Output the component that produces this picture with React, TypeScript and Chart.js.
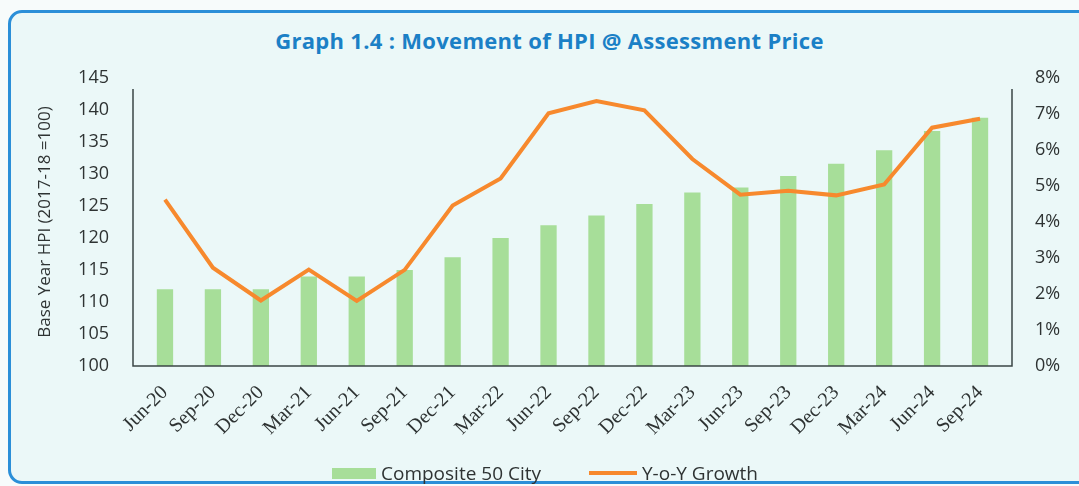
import React, { useEffect, useRef } from 'react';
import { Chart, registerables } from 'chart.js';

Chart.register(...registerables);

const categories = [
  'Jun-20', 'Sep-20', 'Dec-20', 'Mar-21', 'Jun-21', 'Sep-21', 'Dec-21', 'Mar-22', 'Jun-22',
  'Sep-22', 'Dec-22', 'Mar-23', 'Jun-23', 'Sep-23', 'Dec-23', 'Mar-24', 'Jun-24', 'Sep-24',
];
const composite50City = [
  112, 112, 112, 114, 114, 115, 117, 120, 122,
  123.5, 125.3, 127.1, 127.9, 129.7, 131.6, 133.7, 136.7, 138.8,
];
const yoyGrowth = [
  4.62, 2.73, 1.82, 2.68, 1.81, 2.67, 4.46, 5.21, 7.02,
  7.36, 7.1, 5.75, 4.76, 4.87, 4.74, 5.04, 6.62, 6.87,
];
const leftAxisMin = 100;
const leftAxisMax = 145;
const leftAxisStep = 5;
const rightAxisMin = 0;
const rightAxisMax = 8;
const rightAxisStep = 1;

const titleText = 'Graph 1.4 : Movement of HPI @ Assessment Price';
const leftAxisTitle = 'Base Year HPI (2017-18 =100)';
const barLabel = 'Composite 50 City';
const lineLabel = 'Y-o-Y Growth';

const BAR_COLOR = '#a7de99';
const LINE_COLOR = '#f7892d';
const TEXT_COLOR = '#2e3333';

const framePlugin = {
  id: 'axisFrame',
  afterDatasetsDraw(chart: any) {
    const { ctx, chartArea } = chart;
    const { left, right, top, bottom } = chartArea;
    const ext = 8;
    const topOff = 11;
    ctx.save();
    ctx.strokeStyle = '#3b4646';
    ctx.lineWidth = 1.5;
    ctx.beginPath();
    ctx.moveTo(left - ext, top + topOff);
    ctx.lineTo(left - ext, bottom);
    ctx.lineTo(right + ext, bottom);
    ctx.lineTo(right + ext, top + topOff);
    ctx.stroke();
    ctx.restore();
  },
};

export default function App() {
  const canvasRef = useRef<HTMLCanvasElement | null>(null);

  useEffect(() => {
    if (!canvasRef.current) return;
    const chart = new Chart(canvasRef.current, {
      type: 'bar',
      data: {
        labels: categories,
        datasets: [
          {
            type: 'line',
            label: lineLabel,
            data: yoyGrowth,
            yAxisID: 'y1',
            borderColor: LINE_COLOR,
            backgroundColor: LINE_COLOR,
            borderWidth: 4,
            pointRadius: 0,
            tension: 0,
            order: 0,
          } as any,
          {
            type: 'bar',
            label: barLabel,
            data: composite50City,
            yAxisID: 'y',
            backgroundColor: BAR_COLOR,
            barPercentage: 0.34,
            categoryPercentage: 1,
            order: 1,
          } as any,
        ],
      },
      options: {
        animation: false,
        responsive: false,
        maintainAspectRatio: false,
        layout: { padding: { left: 0, right: 0, top: 78, bottom: 0 } },
        plugins: {
          legend: { display: false },
          title: { display: false },
          tooltip: { enabled: false },
        },
        scales: {
          x: {
            type: 'category',
            grid: { display: false, drawTicks: false },
            border: { display: false },
            ticks: {
              color: TEXT_COLOR,
              font: { family: '"Liberation Serif", serif', size: 20 },
              minRotation: 45,
              maxRotation: 45,
              padding: 15,
              autoSkip: false,
            },
            afterFit: (scale: any) => {
              scale.height = 120;
            },
          },
          y: {
            type: 'linear',
            position: 'left',
            min: leftAxisMin,
            max: leftAxisMax,
            grid: { display: false, drawTicks: false },
            border: { display: false },
            ticks: {
              stepSize: leftAxisStep,
              color: TEXT_COLOR,
              font: { family: '"Open Sans", sans-serif', size: 18 },
              padding: 32,
            },
            title: {
              display: true,
              text: leftAxisTitle,
              color: TEXT_COLOR,
              font: { family: '"Open Sans", sans-serif', size: 17 },
              padding: { top: 35, bottom: 0 },
            },
            afterFit: (scale: any) => {
              scale.width = 141;
            },
          },
          y1: {
            type: 'linear',
            position: 'right',
            min: rightAxisMin,
            max: rightAxisMax,
            grid: { display: false, drawTicks: false },
            border: { display: false },
            ticks: {
              stepSize: rightAxisStep,
              color: TEXT_COLOR,
              font: { family: '"Open Sans", sans-serif', size: 18 },
              padding: 31,
              callback: (v: any) => `${v}%`,
            },
            afterFit: (scale: any) => {
              scale.width = 75;
            },
          },
        },
      },
      plugins: [framePlugin],
    });
    return () => chart.destroy();
  }, []);

  return (
    <div
      style={{
        position: 'fixed',
        left: 0,
        top: 0,
        width: 1079,
        height: 486,
        overflow: 'hidden',
        background: '#f7fbfb',
        fontFamily: '"Open Sans", sans-serif',
      }}
    >
      <div
        style={{
          position: 'absolute',
          left: 8,
          top: 10,
          width: 1100,
          height: 468,
          border: '3px solid #2b8fd8',
          borderRadius: 14,
          background: '#ebf8f8',
        }}
      />
      <div
        style={{
          position: 'absolute',
          left: 0,
          top: 25,
          width: 1099,
          textAlign: 'center',
          fontWeight: 700,
          fontSize: 22,
          lineHeight: '30px',
          letterSpacing: 0.3,
          color: '#1b80c6',
        }}
      >
        {titleText}
      </div>
      <canvas
        ref={canvasRef}
        width={1079}
        height={486}
        style={{ position: 'absolute', left: 0, top: 0, width: 1079, height: 486 }}
      />
      <div
        style={{
          position: 'absolute',
          left: 332,
          top: 460,
          height: 26,
          display: 'flex',
          alignItems: 'center',
          fontSize: 19,
          color: TEXT_COLOR,
          whiteSpace: 'nowrap',
        }}
      >
        <span style={{ display: 'inline-block', width: 44, height: 11, background: BAR_COLOR, marginRight: 5 }} />
        <span>{barLabel}</span>
        <span style={{ display: 'inline-block', width: 48, height: 4, background: LINE_COLOR, marginLeft: 48, marginRight: 5 }} />
        <span>{lineLabel}</span>
      </div>
    </div>
  );
}
